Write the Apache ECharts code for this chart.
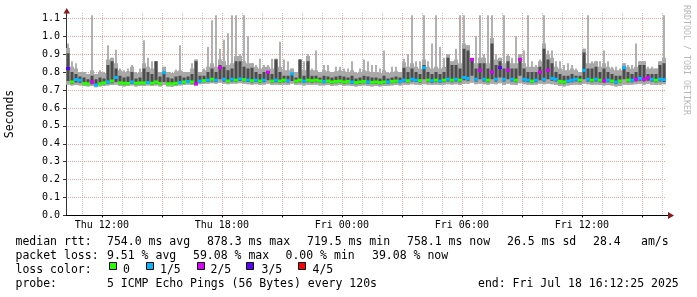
<!DOCTYPE html>
<html><head><meta charset="utf-8">
<script src="https://cdn.jsdelivr.net/npm/echarts@6/dist/echarts.min.js"></script>
<style>html,body{margin:0;padding:0;background:#fff}#c{width:697px;height:297px}</style>
</head><body><div id="c"></div>
<script>
// time axis in hours counted from Thu 00:00; window = 30 h ending Fri 16:12:25
const startHour = 10.2069;
const endHour = 40.2069;
const stepHours = 0.2;
const hourTicks = [11,12,13,14,15,16,17,18,19,20,21,22,23,24,25,26,27,28,29,30,31,32,33,34,35,36,37,38,39,40];
const majorTicks = [12,15,18,21,24,27,30,33,36,39];
const labelTicks = [12,18,24,30,36];
const labelNames = ['Thu 12:00','Thu 18:00','Fri 00:00','Fri 06:00','Fri 12:00'];
const yTicks = [0,0.1,0.2,0.3,0.4,0.5,0.6,0.7,0.8,0.9,1.0,1.1];
const lossColors = ['#26ff00','#00b8ff','#dd00ff','#5e00ff','#ff0000'];
const lossNames = ['0','1/5','2/5','3/5','4/5'];

// smoke: lowest ping, 2nd ping, median, 4th ping, highest ping (seconds); loss count of 5
const lo = [
0.73,0.725,0.728,0.725,0.722,0.72,0.722,0.715,0.72,0.722,
0.725,0.728,0.73,0.722,0.72,0.722,0.725,0.72,0.722,0.722,
0.725,0.722,0.725,0.72,0.728,0.72,0.718,0.722,0.725,0.728,
0.73,0.728,0.722,0.732,0.735,0.735,0.738,0.735,0.74,0.735,
0.732,0.735,0.735,0.738,0.735,0.732,0.73,0.732,0.728,0.73,
0.735,0.728,0.73,0.728,0.73,0.728,0.735,0.728,0.73,0.725,
0.73,0.728,0.73,0.725,0.725,0.728,0.722,0.725,0.728,0.722,
0.725,0.722,0.72,0.722,0.725,0.722,0.72,0.722,0.72,0.722,
0.722,0.725,0.728,0.725,0.73,0.728,0.732,0.73,0.728,0.732,
0.73,0.728,0.73,0.728,0.73,0.732,0.73,0.732,0.728,0.735,
0.735,0.74,0.732,0.735,0.732,0.73,0.735,0.732,0.738,0.728,
0.735,0.73,0.728,0.738,0.732,0.73,0.728,0.73,0.735,0.732,
0.735,0.732,0.728,0.722,0.72,0.725,0.728,0.73,0.728,0.735,
0.732,0.728,0.73,0.728,0.725,0.728,0.725,0.72,0.722,0.73,
0.728,0.73,0.732,0.735,0.73,0.735,0.73,0.728,0.73,0.732];
const dLo = [
0.75,0.735,0.742,0.74,0.73,0.728,0.732,0.722,0.728,0.732,
0.735,0.738,0.745,0.732,0.73,0.73,0.735,0.73,0.732,0.732,
0.733,0.73,0.735,0.73,0.745,0.728,0.728,0.73,0.733,0.737,
0.74,0.737,0.728,0.742,0.744,0.745,0.748,0.745,0.76,0.748,
0.742,0.748,0.745,0.75,0.747,0.745,0.742,0.745,0.74,0.744,
0.755,0.74,0.744,0.74,0.744,0.742,0.75,0.74,0.744,0.74,
0.744,0.74,0.744,0.74,0.738,0.74,0.735,0.738,0.74,0.735,
0.738,0.735,0.732,0.735,0.738,0.735,0.733,0.735,0.732,0.735,
0.735,0.738,0.74,0.738,0.744,0.742,0.748,0.745,0.742,0.76,
0.744,0.74,0.744,0.74,0.744,0.748,0.744,0.748,0.744,0.755,
0.752,0.78,0.748,0.76,0.748,0.744,0.76,0.748,0.77,0.748,
0.76,0.748,0.744,0.78,0.748,0.744,0.74,0.744,0.755,0.748,
0.76,0.752,0.748,0.738,0.735,0.74,0.744,0.748,0.744,0.76,
0.748,0.744,0.748,0.744,0.74,0.744,0.74,0.735,0.74,0.76,
0.744,0.744,0.748,0.752,0.748,0.752,0.748,0.744,0.748,0.745];
const med = [
0.82,0.745,0.758,0.755,0.737,0.735,0.745,0.728,0.735,0.74,
0.745,0.75,0.77,0.74,0.738,0.737,0.745,0.738,0.74,0.74,
0.742,0.738,0.745,0.737,0.797,0.735,0.735,0.738,0.742,0.745,
0.748,0.745,0.735,0.75,0.752,0.755,0.76,0.755,0.825,0.76,
0.75,0.76,0.755,0.762,0.758,0.755,0.752,0.755,0.75,0.755,
0.80,0.75,0.755,0.75,0.755,0.752,0.79,0.75,0.755,0.75,
0.755,0.752,0.755,0.75,0.748,0.75,0.745,0.748,0.75,0.745,
0.748,0.745,0.742,0.745,0.748,0.745,0.743,0.745,0.742,0.745,
0.745,0.748,0.75,0.748,0.755,0.752,0.76,0.755,0.752,0.825,
0.755,0.752,0.755,0.75,0.755,0.76,0.755,0.76,0.755,0.77,
0.765,0.87,0.76,0.81,0.76,0.755,0.80,0.76,0.825,0.76,
0.81,0.76,0.755,0.87,0.76,0.755,0.75,0.755,0.80,0.76,
0.81,0.765,0.76,0.748,0.745,0.75,0.755,0.76,0.755,0.81,
0.76,0.755,0.76,0.755,0.752,0.755,0.75,0.745,0.75,0.825,
0.755,0.755,0.76,0.765,0.76,0.768,0.76,0.755,0.76,0.758];
const dHi = [
0.905,0.80,0.79,0.775,0.77,0.76,0.78,0.76,0.77,0.765,
0.84,0.86,0.82,0.78,0.77,0.775,0.80,0.765,0.77,0.82,
0.80,0.79,0.86,0.775,0.80,0.77,0.765,0.775,0.78,0.77,
0.775,0.79,0.86,0.78,0.78,0.80,0.82,0.80,0.84,0.83,
0.81,0.82,0.86,0.86,0.83,0.82,0.825,0.80,0.79,0.80,
0.80,0.79,0.87,0.80,0.78,0.78,0.79,0.77,0.87,0.78,
0.86,0.78,0.78,0.77,0.78,0.775,0.77,0.775,0.78,0.775,
0.77,0.78,0.765,0.77,0.78,0.775,0.77,0.77,0.765,0.78,
0.765,0.77,0.775,0.77,0.825,0.80,0.82,0.80,0.79,0.84,
0.80,0.79,0.80,0.79,0.80,0.88,0.84,0.84,0.82,0.93,
0.92,0.87,0.82,0.85,0.85,0.82,0.96,0.84,0.86,0.82,
0.86,0.82,0.82,0.88,0.82,0.80,0.80,0.80,0.83,0.93,
0.87,0.85,0.80,0.79,0.78,0.78,0.79,0.78,0.78,0.91,
0.82,0.82,0.83,0.80,0.82,0.80,0.79,0.78,0.78,0.83,
0.80,0.79,0.80,0.84,0.84,0.79,0.79,0.79,0.84,0.85];
const hi = [
0.96,0.86,0.85,0.80,0.80,0.79,1.118,0.79,0.81,0.80,
0.95,0.88,0.925,0.82,0.81,0.82,0.84,0.80,0.82,0.978,
0.88,0.86,0.86,0.80,0.83,0.80,0.795,0.815,0.95,0.80,
0.80,0.85,0.87,0.80,0.82,0.94,1.09,1.118,0.93,0.98,
1.017,1.118,1.118,0.90,1.118,1.0,0.85,0.84,0.875,0.84,
0.84,0.875,0.875,0.97,0.87,0.86,0.82,0.80,0.87,0.86,
0.90,0.82,0.92,0.80,0.84,0.84,0.80,0.83,0.83,0.82,
0.82,0.86,0.80,0.82,0.87,0.86,0.84,0.84,0.82,0.92,
0.80,0.83,0.83,0.80,0.875,0.90,1.118,0.86,0.86,1.118,
0.86,0.96,1.118,0.94,0.88,0.90,0.86,0.93,1.118,1.118,
0.95,0.88,1.0,1.118,0.90,1.118,1.118,0.90,0.88,1.118,
0.90,0.88,1.0,0.90,0.92,1.118,0.86,0.84,0.87,1.118,
0.92,0.92,0.86,0.86,0.84,0.85,0.84,0.82,0.80,0.93,
1.118,0.86,0.86,0.86,0.92,0.86,0.83,0.83,0.82,0.85,
0.84,0.84,0.96,0.86,0.86,0.83,0.83,0.82,0.86,1.118];
const loss = [
3,0,1,1,0,0,2,1,0,0,
1,0,1,0,0,0,1,0,0,0,
1,0,0,0,1,0,0,0,1,0,
1,0,2,1,0,1,0,1,2,1,
0,1,0,1,0,1,0,1,0,1,
2,0,1,0,0,1,1,0,0,1,
0,0,0,0,1,0,0,0,0,0,
0,1,0,0,0,1,0,0,0,0,
1,0,0,1,1,0,1,1,0,1,
0,1,0,1,0,1,0,1,0,1,
1,2,1,2,1,0,2,1,3,1,
2,1,0,2,1,1,0,1,2,1,
2,1,1,0,0,1,1,1,0,1,
1,0,1,0,2,1,0,1,0,1,
0,1,2,1,2,2,1,0,1,1];

const legendRows = [
  [[15.5,'median rtt:'],[107,'754.0 ms avg'],[207,'878.3 ms max'],[307,'719.5 ms min'],[407,'758.1 ms now'],[507,'26.5 ms sd'],[593,'28.4'],[641,'am/s']],
  [[15.5,'packet loss:'],[107,'9.51 % avg'],[193,'59.08 % max'],[285.5,'0.00 % min'],[372,'39.08 % now']],
  [[15.5,'loss color:']],
  [[15.5,'probe:'],[107,'5 ICMP Echo Pings (56 Bytes) every 120s'],[478,'end: Fri Jul 18 16:12:25 2025']]
];
const rowY = [241.8, 255.8, 269.8, 284.2];
const boxX = [109.5,146.5,197.5,246.5,298.5];
const boxLabelX = [123,160,210.5,261.5,312.5];

const MONO = '"DejaVu Sans Mono", monospace';
const times = hi.map((_, i) => startHour + (i + 0.5) * stepHours);
const smokeData = times.map((t, i) => [t, lo[i], dLo[i], med[i], dHi[i], hi[i]]);
const medData = times.map((t, i) => [t, med[i], loss[i]]);

const graphics = [];
legendRows.forEach((row, r) => row.forEach(([x, s]) => graphics.push({
  type: 'text', x: x, y: rowY[r], silent: true,
  style: { text: s, fill: '#000', font: '11.5px ' + MONO, align: 'left', verticalAlign: 'middle' }
})));
lossNames.forEach((n, k) => {
  graphics.push({ type: 'rect', silent: true, shape: { x: boxX[k], y: 262.5, width: 7, height: 7 },
    style: { fill: lossColors[k], stroke: '#000', lineWidth: 1 } });
  graphics.push({ type: 'text', x: boxLabelX[k], y: rowY[2], silent: true,
    style: { text: n, fill: '#000', font: '11.5px ' + MONO, align: 'left', verticalAlign: 'middle' } });
});
graphics.push({ type: 'text', x: 10, y: 114, rotation: Math.PI / 2, silent: true,
  style: { text: 'Seconds', fill: '#000', font: '11.5px ' + MONO, align: 'center', verticalAlign: 'middle' } });
graphics.push({ type: 'text', x: 686, y: 60, rotation: -Math.PI / 2, silent: true,
  style: { text: 'RRDTOOL / TOBI OETIKER', fill: '#b8b8b8', font: '8.3px ' + MONO, align: 'center', verticalAlign: 'middle' } });
// axis arrows
graphics.push({ type: 'polygon', silent: true, z: 100, shape: { points: [[63.5, 13.5], [70, 13.5], [66.7, 8]] }, style: { fill: '#8b1a1a' } });
graphics.push({ type: 'line', silent: true, z: 100, shape: { x1: 666, y1: 215.5, x2: 668, y2: 215.5 }, style: { stroke: '#000', lineWidth: 1 } });
graphics.push({ type: 'polygon', silent: true, z: 100, shape: { points: [[668, 212], [668, 219], [674, 215.5]] }, style: { fill: '#8b1a1a' } });

const chart = echarts.init(document.getElementById('c'), null, { renderer: 'canvas' });
chart.setOption({
  animation: false,
  backgroundColor: '#fff',
  grid: { left: 66, top: 13, width: 600, height: 202.4, containLabel: false },
  xAxis: [
    { type: 'value', min: startHour, max: endHour, position: 'bottom', z: 0,
      axisLine: { show: false }, axisLabel: { show: false },
      axisTick: { show: false, customValues: hourTicks },
      splitLine: { show: true, lineStyle: { color: '#c4c4c4', type: [1, 1], width: 1 } } },
    { type: 'value', min: startHour, max: endHour, position: 'bottom', z: 1,
      axisLine: { show: true, onZero: false, lineStyle: { color: '#000', width: 1 } },
      axisTick: { show: true, customValues: majorTicks, length: 2, lineStyle: { color: '#000' } },
      axisLabel: { show: true, customValues: labelTicks, margin: 5, color: '#000',
        fontFamily: MONO, fontSize: 10,
        formatter: v => { const k = labelTicks.indexOf(v); return k >= 0 ? labelNames[k] : ''; } },
      splitLine: { show: true, lineStyle: { color: '#e8a4a4', type: [1, 1], width: 1 } } }
  ],
  yAxis: { type: 'value', min: 0, max: 1.13, z: 1,
    axisLine: { show: true, onZero: false, lineStyle: { color: '#333', width: 1 } },
    axisTick: { show: true, customValues: yTicks, length: 3, lineStyle: { color: '#333' } },
    axisLabel: { customValues: yTicks, margin: 6, color: '#000', fontFamily: MONO, fontSize: 10,
      formatter: v => v.toFixed(1) },
    splitLine: { show: true, lineStyle: { color: '#e8a4a4', type: [1, 1], width: 1 } } },
  series: [
    { type: 'custom', name: 'smoke', xAxisIndex: 1, silent: true, clip: true,
      data: smokeData,
      encode: { x: 0, y: [1, 2, 3, 4, 5] },
      renderItem: (params, api) => {
        const t = api.value(0);
        const w = api.size([stepHours, 0])[0];
        const pLo = api.coord([t, api.value(1)]);
        const pDLo = api.coord([t, api.value(2)]);
        const pDHi = api.coord([t, api.value(4)]);
        const pHi = api.coord([t, api.value(5)]);
        const pBody = api.coord([t, Math.min(api.value(5), api.value(4) + 0.03)]);
        const x = pLo[0] - w / 2;
        const sw = Math.max(1.5, w * 0.45);
        return { type: 'group', children: [
          { type: 'rect', shape: { x: pLo[0] - sw / 2, y: pHi[1], width: sw, height: pLo[1] - pHi[1] }, style: { fill: '#a9a9a9' } },
          { type: 'rect', shape: { x: x, y: pBody[1], width: w, height: pLo[1] - pBody[1] }, style: { fill: '#a9a9a9' } },
          { type: 'rect', shape: { x: x + 0.5, y: pDHi[1], width: w - 1, height: pDLo[1] - pDHi[1] }, style: { fill: '#4c4c4c' } }
        ] };
      } },
    { type: 'scatter', name: 'median', xAxisIndex: 1, silent: true,
      data: medData, symbol: 'rect', symbolSize: [4, 3],
      itemStyle: { color: p => lossColors[p.value[2]], opacity: 1 } }
  ],
  graphic: graphics
});
</script></body></html>
